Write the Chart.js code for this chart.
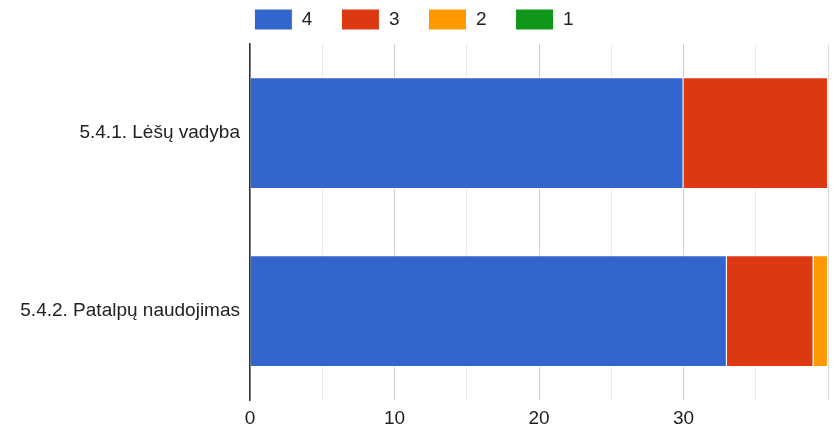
<!DOCTYPE html>
<html>
<head>
<meta charset="utf-8">
<script src="https://cdn.jsdelivr.net/npm/chart.js@4/dist/chart.umd.min.js"></script>
<style>
  html, body { margin: 0; padding: 0; background: #fff; }
  #wrap { width: 837px; height: 431px; }
</style>
</head>
<body>
<div id="wrap"><canvas id="myChart"></canvas></div>
<script>
const categories = ['5.4.1. Lėšų vadyba', '5.4.2. Patalpų naudojimas'];
const seriesLabels = ['4', '3', '2', '1'];
const values4 = [30, 33];
const values3 = [10, 6];
const values2 = [0, 1];
const values1 = [0, 0];
const colors = ['#3366cc', '#dc3912', '#ff9900', '#109618'];

const seriesValues = [values4, values3, values2, values1];
const datasets = seriesLabels.map((label, i) => ({
    label: label,
    data: seriesValues[i],
    backgroundColor: colors[i],
    borderColor: '#ffffff',
    borderWidth: 1,
    categoryPercentage: 0.8,
    barPercentage: 0.785
}));

const font = {family: 'Liberation Sans, Arial, sans-serif', size: 19};

// a bit more room under the legend
const legendGap = {
    id: 'legendGap',
    beforeInit(chart) {
        const fit = chart.legend.fit;
        chart.legend.fit = function () {
            fit.call(this);
            this.height += 4;
        };
    }
};

const options = {
    type: 'bar',
    data: {
        labels: categories,
        datasets: datasets
    },
    options: {
        indexAxis: 'y',
        responsive: true,
        maintainAspectRatio: false,
        animation: false,
        layout: {
            padding: {left: 0, right: 9, top: -20, bottom: -6}
        },
        plugins: {
            legend: {
                position: 'top',
                labels: {
                    boxWidth: 38,
                    boxHeight: 21,
                    padding: 29,
                    color: '#222',
                    font: font
                }
            },
            tooltip: {enabled: false}
        },
        scales: {
            x: {
                stacked: true,
                min: 0,
                max: 40,
                ticks: {
                    stepSize: 5,
                    padding: 7,
                    color: '#222',
                    font: font,
                    callback: (v) => (v % 10 === 0 && v < 40) ? String(v) : ''
                },
                grid: {
                    drawTicks: false,
                    color: (ctx) => {
                        const v = ctx.tick ? ctx.tick.value : 0;
                        if (v === 40) return '#dddddd';
                        return v % 10 === 0 ? '#cccccc' : '#ebebeb';
                    }
                },
                border: {display: false}
            },
            y: {
                stacked: true,
                ticks: {
                    padding: 10,
                    color: '#222',
                    font: font
                },
                grid: {display: false, drawTicks: false},
                border: {display: true, color: '#333333', width: 1.5},
                afterFit: (scale) => { scale.width = 250; }
            }
        }
    },
    plugins: [legendGap]
};

const ctx = document.getElementById('myChart').getContext('2d');
const chart = new Chart(ctx, options);
</script>
</body>
</html>
